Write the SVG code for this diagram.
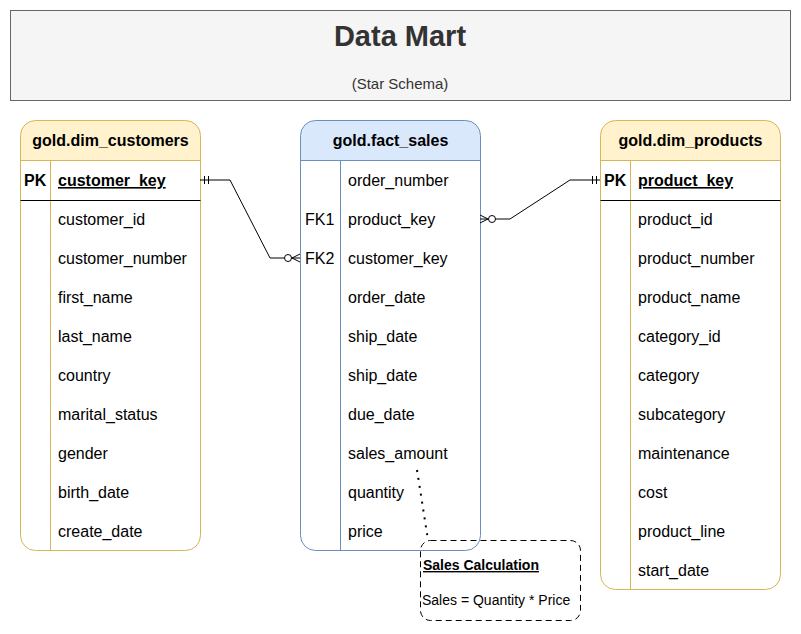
<svg xmlns="http://www.w3.org/2000/svg" width="801" height="634" viewBox="0 0 801 634">
<style>
text{font-family:"Liberation Sans",Arial,sans-serif;fill:#000}
.hd{font-size:16px;font-weight:bold;text-anchor:middle}
.f{font-size:16px}
.k{font-size:16px;font-weight:bold}
.pk{font-size:16px;font-weight:bold;text-decoration:underline}
.ybody{fill:#fff;stroke:none}
.yhead{fill:#fff2cc;stroke:none}
.bhead{fill:#dae8fc;stroke:none}
.yo{fill:none;stroke:#d6b656}
.bo{fill:none;stroke:#6c8ebf}
.ln{stroke:#000;fill:none}
.edge{stroke:#000;stroke-width:1;fill:none}
</style>
<g id="header">
<rect x="10.5" y="10.5" width="780" height="90" fill="#f5f5f5" stroke="#666"/>
<text x="400" y="46" style="font-size:29px;font-weight:bold;fill:#333" text-anchor="middle">Data Mart</text>
<text x="400" y="89" style="font-size:15px;fill:#333" text-anchor="middle">(Star Schema)</text>
</g>
<g id="dim_customers">
<rect class="ybody" x="20.5" y="120.5" width="180" height="430" rx="15"/>
<path class="yhead" d="M20.5,160.5 V135.5 A15,15 0 0 1 35.5,120.5 H185.5 A15,15 0 0 1 200.5,135.5 V160.5 Z"/>
<rect class="yo" x="20.5" y="120.5" width="180" height="430" rx="15"/>
<path class="yo" d="M20.5,160.5 H200.5 M50.5,160.5 V550.5"/>
<path class="ln" d="M20.5,200.5 H200.5"/>
<text class="hd" x="110.5" y="146">gold.dim_customers</text>
<text class="k" x="24" y="186">PK</text>
<text class="pk" x="58" y="186">customer_key</text>
<text class="f" x="58" y="225">customer_id</text>
<text class="f" x="58" y="264">customer_number</text>
<text class="f" x="58" y="303">first_name</text>
<text class="f" x="58" y="342">last_name</text>
<text class="f" x="58" y="381">country</text>
<text class="f" x="58" y="420">marital_status</text>
<text class="f" x="58" y="459">gender</text>
<text class="f" x="58" y="498">birth_date</text>
<text class="f" x="58" y="537">create_date</text>
</g>
<g id="fact_sales">
<rect class="ybody" x="300.5" y="120.5" width="180" height="430" rx="15"/>
<path class="bhead" d="M300.5,160.5 V135.5 A15,15 0 0 1 315.5,120.5 H465.5 A15,15 0 0 1 480.5,135.5 V160.5 Z"/>
<rect class="bo" x="300.5" y="120.5" width="180" height="430" rx="15"/>
<path class="bo" d="M300.5,160.5 H480.5 M340.5,160.5 V550.5"/>
<text class="hd" x="390.5" y="146">gold.fact_sales</text>
<text class="f" x="348" y="186">order_number</text>
<text class="f" x="305" y="225">FK1</text>
<text class="f" x="348" y="225">product_key</text>
<text class="f" x="305" y="264">FK2</text>
<text class="f" x="348" y="264">customer_key</text>
<text class="f" x="348" y="303">order_date</text>
<text class="f" x="348" y="342">ship_date</text>
<text class="f" x="348" y="381">ship_date</text>
<text class="f" x="348" y="420">due_date</text>
<text class="f" x="348" y="459">sales_amount</text>
<text class="f" x="348" y="498">quantity</text>
<text class="f" x="348" y="537">price</text>
</g>
<g id="dim_products">
<rect class="ybody" x="600.5" y="120.5" width="180" height="469" rx="15"/>
<path class="yhead" d="M600.5,160.5 V135.5 A15,15 0 0 1 615.5,120.5 H765.5 A15,15 0 0 1 780.5,135.5 V160.5 Z"/>
<rect class="yo" x="600.5" y="120.5" width="180" height="469" rx="15"/>
<path class="yo" d="M600.5,160.5 H780.5 M630.5,160.5 V589.5"/>
<path class="ln" d="M600.5,200.5 H780.5"/>
<text class="hd" x="690.5" y="146">gold.dim_products</text>
<text class="k" x="604" y="186">PK</text>
<text class="pk" x="638" y="186">product_key</text>
<text class="f" x="638" y="225">product_id</text>
<text class="f" x="638" y="264">product_number</text>
<text class="f" x="638" y="303">product_name</text>
<text class="f" x="638" y="342">category_id</text>
<text class="f" x="638" y="381">category</text>
<text class="f" x="638" y="420">subcategory</text>
<text class="f" x="638" y="459">maintenance</text>
<text class="f" x="638" y="498">cost</text>
<text class="f" x="638" y="537">product_line</text>
<text class="f" x="638" y="576">start_date</text>
</g>
<g id="note_sales_calc">
<rect x="420.5" y="540.5" width="160" height="80" rx="10" fill="none" stroke="#000" stroke-dasharray="6 4"/>
<text x="423" y="570" style="font-size:14px;font-weight:bold;text-decoration:underline">Sales Calculation</text>
<text x="422" y="605" style="font-size:14px">Sales = Quantity * Price</text>
</g>
<g id="connectors">
<path class="edge" d="M200,180 H230 L270,258 H300"/>
<path class="edge" d="M204.5,176 V184 M208.5,176 V184"/>
<path class="edge" d="M292,258 L300,254 M292,258 L300,262"/>
<circle cx="288" cy="258" r="3.5" fill="#fff" stroke="#000"/>
<path class="edge" d="M480,219 H510 L570,180 H600"/>
<path class="edge" d="M592.5,176 V184 M596.5,176 V184"/>
<path class="edge" d="M488,219 L480,215 M488,219 L480,223"/>
<circle cx="492" cy="219" r="3.5" fill="#fff" stroke="#000"/>
<path d="M417,470 L428,540" fill="none" stroke="#000" stroke-width="2" stroke-dasharray="2 6"/>
</g>
</svg>
